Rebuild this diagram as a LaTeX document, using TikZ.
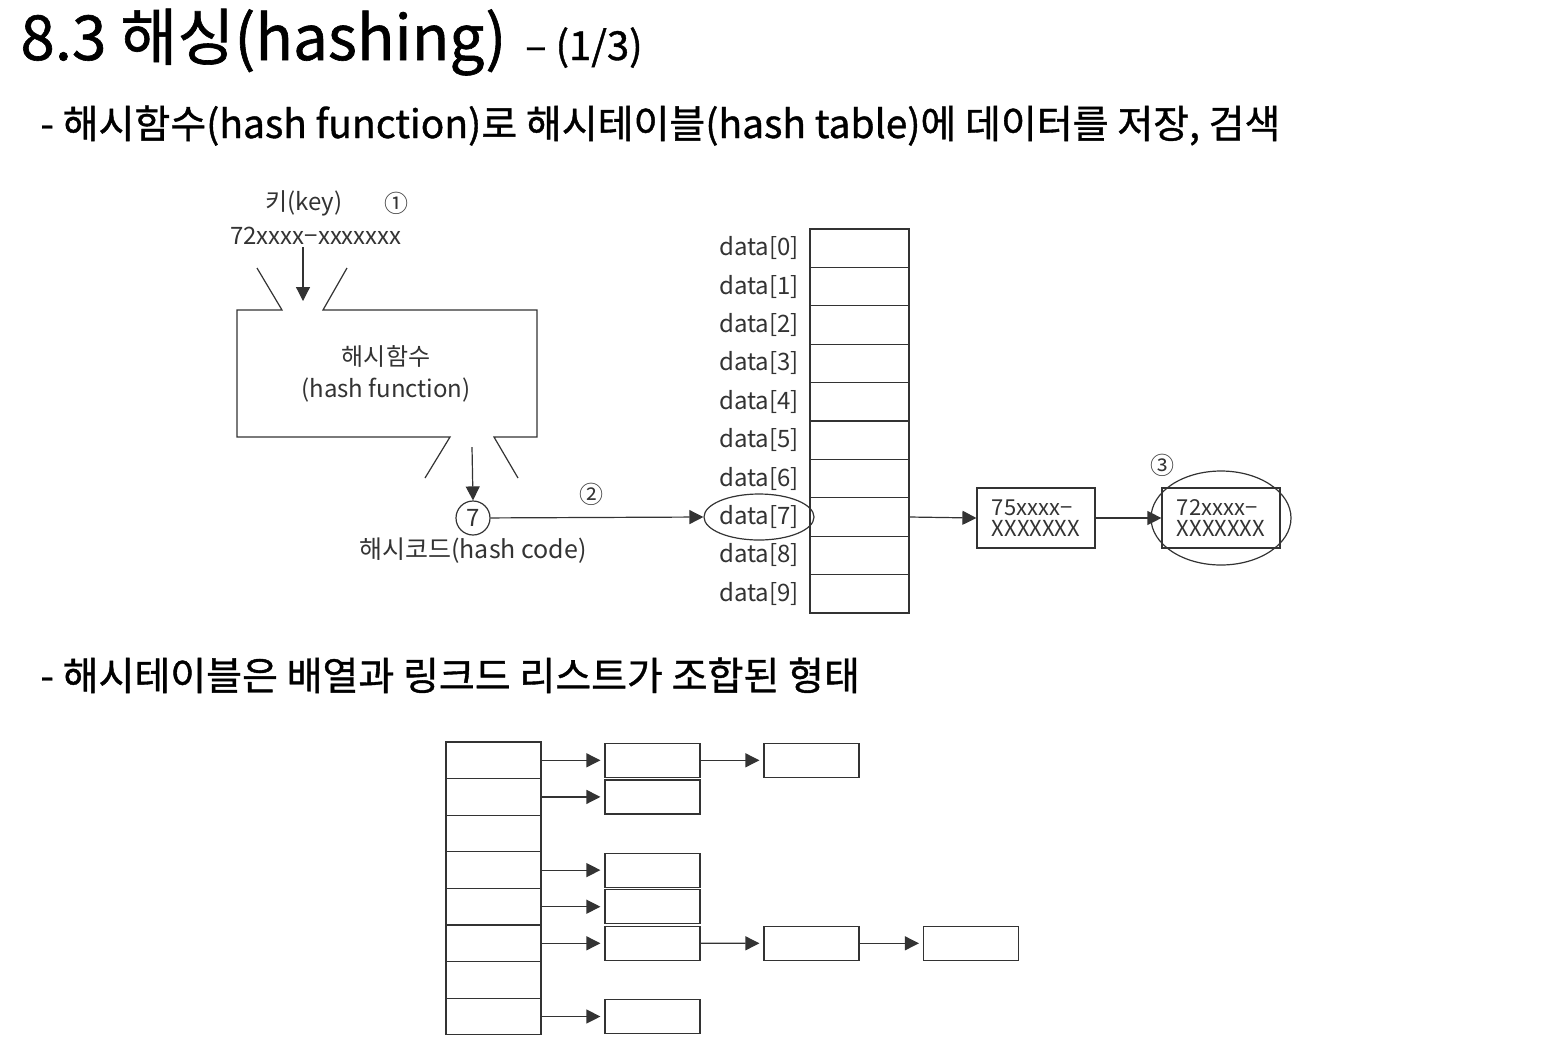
\documentclass[tikz,border=0pt]{standalone}
\usepackage{fontspec}
\setmainfont{Noto Sans CJK KR}
\newfontfamily\headfont{Noto Sans CJK KR}[FakeBold=1]
\usetikzlibrary{arrows.meta,positioning,shapes.geometric}
\definecolor{inkc}{gray}{0.2}

\begin{document}
\begin{tikzpicture}[
    x=0.5pt, y=-0.5pt,
    font=\fontsize{12}{16}\selectfont,
    ln/.style={line width=0.6pt, draw=inkc},
    arr/.style={ln, -{Triangle[length=7pt,width=7pt]}},
    head/.style={anchor=base west, inner sep=0pt},
    lbl/.style={inner sep=1pt, text=inkc},
    cell/.style={ln, minimum width=49.5pt, minimum height=19.2pt, inner sep=0pt},
    vbox/.style={ln, minimum width=59pt, minimum height=30pt, align=left, inner sep=2pt,
      text=inkc, font=\fontsize{11}{10.5}\selectfont},
    acell/.style={ln, minimum width=47.5pt, minimum height=18.3pt, inner sep=0pt},
    lnode/.style={ln, minimum width=47.5pt, minimum height=17pt, inner sep=0pt}
  ]
  \useasboundingbox (0,0) rectangle (1548,1046);

  % headings
  \node[head, font=\headfont\fontsize{31}{36}\selectfont] (ttl) at (20,60) {8.3 해싱(hashing)};
  \node[head, font=\headfont\fontsize{20}{22}\selectfont, xshift=9pt] (pg) at (ttl.base east) {– (1/3)};
  \node[head, font=\headfont\fontsize{19.5}{22}\selectfont] (sub1) at (40,138)
    {- 해시함수(hash function)로 해시테이블(hash table)에 데이터를 저장, 검색};
  \node[head, font=\headfont\fontsize{19.5}{22}\selectfont] (sub2) at (40,690)
    {- 해시테이블은 배열과 링크드 리스트가 조합된 형태};

  % key and hash function
  \node[lbl] (key) at (304,203) {키(key)};
  \node[lbl] (n1) at (396,203) {①};
  \node[lbl] (kv) at (316,236) {72xxxx−xxxxxxx};
  \draw[ln] (257,268) -- (282,310) -- (237,310) -- (237,437) -- (450,437) -- (425,478);
  \draw[ln] (347,268) -- (323,310) -- (537,310) -- (537,437) -- (494,437) -- (518,478);
  \node[lbl, align=center] (hf) at (386,374) {해시함수\\(hash function)};
  \coordinate (fin) at (303,301);
  \coordinate (fout) at (472,447);
  \draw[arr] (kv.south -| fin) -- (fin);

  \node[ln, circle, minimum size=17pt, inner sep=0pt, text=inkc] (hc7) at (473,518) {7};
  \node[lbl, font=\fontsize{12.5}{16}\selectfont] (hcode) at (473,551) {해시코드(hash code)};
  \node[lbl] (n2) at (591,494) {②};
  \draw[arr] (fout) -- (hc7.north);

  % hash table
  \foreach \i in {0,...,9} {
    \node[cell] (d\i) at (859.5,{248.2+38.4*\i}) {};
    \node[lbl] (l\i) at (759,{248.2+38.4*\i}) {data[\i]};
  }
  \node[ln, ellipse, minimum width=55pt, minimum height=23pt] (sel7) at (l7) {};
  \draw[arr] (hc7) -- (sel7.west);

  % chain
  \node[vbox] (v75) at (1036,518) {75xxxx−\\XXXXXXX};
  \node[vbox] (v72) at (1221,518) {72xxxx−\\XXXXXXX};
  \node[ln, ellipse, minimum width=70pt, minimum height=47pt] (sel3) at (1221,518) {};
  \node[lbl] (n3) at (1162,465) {③};
  \draw[arr] (d7.east) -- (v75.west);
  \draw[arr] (v75) -- (v72);

  % array + linked lists
  \foreach \i in {0,...,7}
    \node[acell] (r\i) at (493.5,{760.3+36.6*\i}) {};
  \foreach \i in {0,1,3,4,5,7} {
    \node[lnode] (s\i) at (652.5,{760.3+36.6*\i}) {};
    \draw[arr, shorten >=2pt] (r\i) -- (s\i);
  }
  \node[lnode] (t0) at (811.5,760.3) {};
  \node[lnode] (t5) at (811.5,943.3) {};
  \node[lnode] (u5) at (971,943.3) {};
  \draw[arr, shorten >=2pt] (s0) -- (t0);
  \draw[arr, shorten >=2pt] (s5) -- (t5);
  \draw[arr, shorten >=2pt] (t5) -- (u5);
\end{tikzpicture}
\end{document}
